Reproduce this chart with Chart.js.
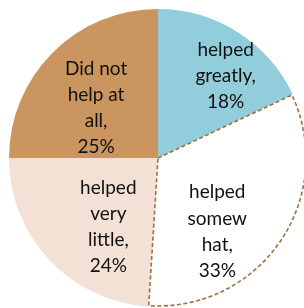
<!DOCTYPE html>
<html>
<head>
<meta charset="utf-8">
<script src="https://cdn.jsdelivr.net/npm/chart.js@4/dist/chart.umd.min.js"></script>
<style>
html,body{margin:0;padding:0;background:#fff;overflow:hidden;width:304px;height:308px;}
#wrap{position:absolute;left:0;top:0;width:310px;height:308px;}
</style>
</head>
<body>
<div id="wrap"><canvas id="c"></canvas></div>
<script>
const categories = ["helped greatly", "helped somewhat", "helped very little", "Did not help at all"];
const values = [18, 33, 24, 25];
const labelLines = [
  ["helped", "greatly,", "18%"],
  ["helped", "somew", "hat,", "33%"],
  ["helped", "very", "little,", "24%"],
  ["Did not", "help at", "all,", "25%"]
];
const colors = ["#92CDDC", "#FFFFFF", "#F3E1D6", "#CA955F"];

// label placement relative to each slice: [angle offset (deg), radius fraction]
const labelPlace = [[7, 0.715], [17, 0.635], [-11, 0.57], [-6, 0.535]];

const dashPlugin = {
  id: 'dashOutline',
  afterDatasetsDraw(chart) {
    const arc = chart.getDatasetMeta(0).data[1];
    const ctx = chart.ctx;
    ctx.save();
    ctx.strokeStyle = '#A0703C';
    ctx.lineWidth = 1.6;
    ctx.setLineDash([4, 2.5]);
    ctx.beginPath();
    ctx.moveTo(arc.x, arc.y);
    ctx.arc(arc.x, arc.y, arc.outerRadius - 1, arc.startAngle, arc.endAngle);
    ctx.closePath();
    ctx.stroke();
    ctx.restore();
  }
};

const labelPlugin = {
  id: 'sliceLabels',
  afterDraw(chart) {
    const meta = chart.getDatasetMeta(0);
    const ctx = chart.ctx;
    ctx.save();
    ctx.fillStyle = '#111';
    ctx.font = '19px Lato';
    ctx.textAlign = 'center';
    ctx.textBaseline = 'middle';
    const lh = 26.3;
    meta.data.forEach((arc, i) => {
      const mid = (arc.startAngle + arc.endAngle) / 2 + labelPlace[i][0] * Math.PI / 180;
      const r = arc.outerRadius * labelPlace[i][1];
      const cx = arc.x + Math.cos(mid) * r;
      const cy = arc.y + Math.sin(mid) * r;
      const lines = labelLines[i];
      const y0 = cy - (lines.length - 1) * lh / 2;
      lines.forEach((t, j) => ctx.fillText(t, cx, y0 + j * lh));
    });
    ctx.restore();
  }
};

new Chart(document.getElementById('c'), {
  type: 'pie',
  data: {
    labels: categories,
    datasets: [{
      data: values,
      backgroundColor: colors,
      borderWidth: 0
    }]
  },
  options: {
    responsive: true,
    maintainAspectRatio: false,
    animation: false,
    layout: { padding: { left: 9, right: 3, top: 9, bottom: 1 } },
    plugins: { legend: { display: false }, tooltip: { enabled: false } }
  },
  plugins: [dashPlugin, labelPlugin]
});
</script>
</body>
</html>
